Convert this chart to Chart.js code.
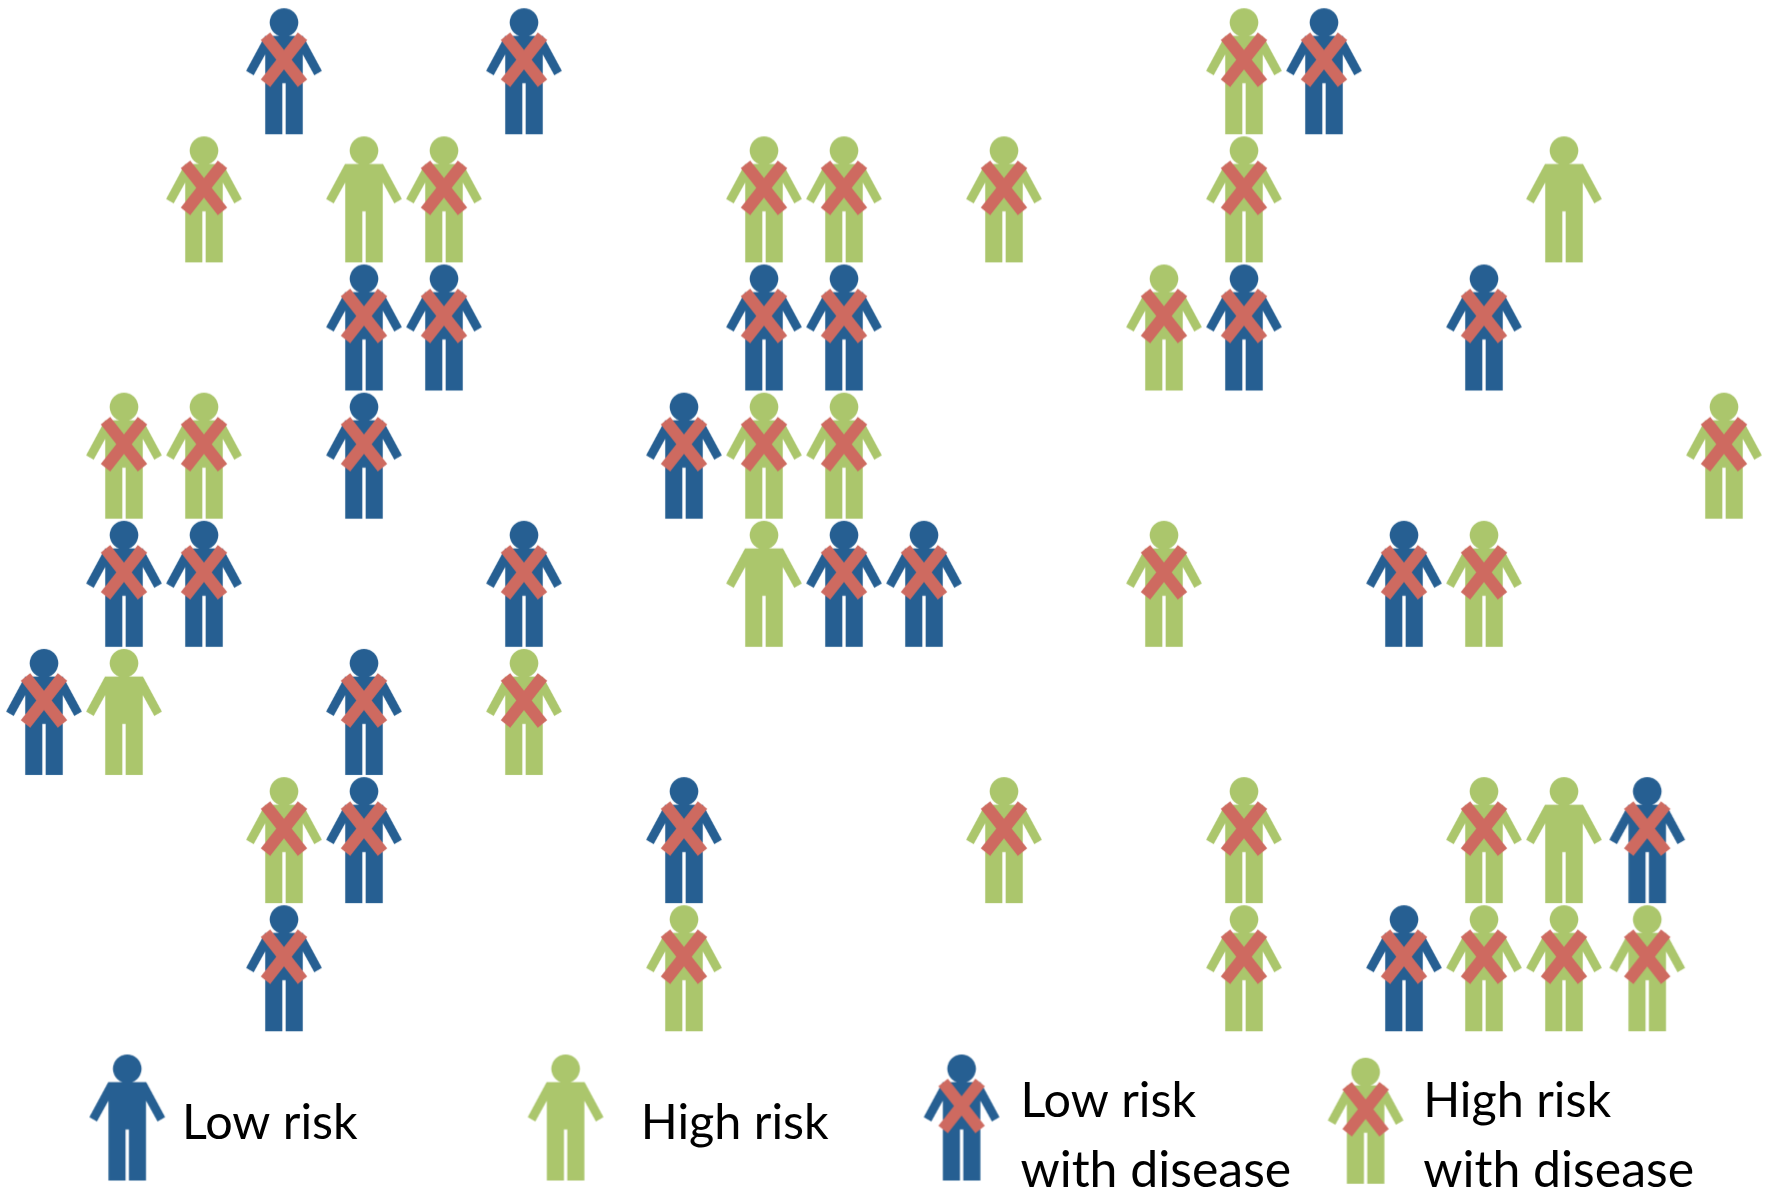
<!DOCTYPE html>
<html><head><meta charset="utf-8">
<style>html,body{margin:0;padding:0;background:#fff;overflow:hidden}#w{width:1774px;height:1192px;position:relative}canvas{display:block;filter:blur(0.45px)}</style>
<script src="https://cdn.jsdelivr.net/npm/chart.js@4/dist/chart.umd.min.js"></script>
</head><body><div id="w"><canvas id="c" width="1774" height="1192"></canvas></div>
<script>
// Grid positions: column index, row index
const lowRiskCol = [];
const lowRiskRow = [];
const highRiskCol = [4, 19, 9, 1, 19];
const highRiskRow = [1, 1, 4, 5, 6];
const lowDiseaseCol = [3, 6, 16, 4, 5, 9, 10, 15, 18, 4, 8, 1, 2, 6, 10, 11, 17, 0, 4, 4, 8, 20.04, 3, 17];
const lowDiseaseRow = [0, 0, 0, 2, 2, 2, 2, 2, 2, 3, 3, 4, 4, 4, 4, 4, 4, 5, 5, 6, 6, 6, 7, 7];
const highDiseaseCol = [15, 2, 5, 9, 10, 12, 15, 14, 1, 2, 9, 10, 21, 14, 18, 6, 3, 12, 15, 18, 8, 15, 18, 19, 20.04];
const highDiseaseRow = [0, 1, 1, 1, 1, 1, 1, 2, 3, 3, 3, 3, 3, 4, 4, 5, 6, 6, 6, 6, 7, 7, 7, 7, 7];

// Legend keys and texts, in the same grid units
const keyNames = ["Low risk", "High risk", "Low risk with disease", "High risk with disease"];
const keyCol = [1.04, 6.52, 11.47, 16.52];
const keyRow = [8.165, 8.165, 8.165, 8.19];
const keyLabels = ["Low risk", "High risk", "Low risk", "with disease", "High risk", "with disease"];
const keyLabelCol = [1.725, 7.46, 12.205, 12.205, 17.24, 17.24];
const keyLabelRow = [8.336, 8.336, 8.165, 8.71, 8.165, 8.71];
const keyLabelPx = [48.5, 48.5, 48.5, 50, 48.5, 50];

const BLUE = "#265F92", GREEN = "#ABC66C", RED = "#CE6A60";

function person(color, crossed) {
  const s = 3, c = document.createElement("canvas");
  c.width = 84 * s; c.height = 130 * s;
  const g = c.getContext("2d");
  g.scale(s, s);
  g.translate(42, 2);
  g.fillStyle = color;
  g.beginPath(); g.arc(0, 14.3, 14.3, 0, Math.PI * 2); g.fill();
  g.beginPath();
  g.moveTo(-19, 27.7); g.lineTo(19, 27.7);
  g.lineTo(37.9, 62.7); g.lineTo(30.3, 67); g.lineTo(18.7, 46);
  g.lineTo(18.7, 126); g.lineTo(1.7, 126); g.lineTo(1.7, 75);
  g.lineTo(-1.7, 75); g.lineTo(-1.7, 126); g.lineTo(-18.7, 126);
  g.lineTo(-18.7, 46); g.lineTo(-30.3, 67); g.lineTo(-37.9, 62.7);
  g.closePath(); g.fill();
  if (crossed) {
    g.strokeStyle = RED; g.lineWidth = 12; g.lineCap = "butt";
    g.beginPath();
    g.moveTo(-18.5, 28); g.lineTo(18.5, 75);
    g.moveTo(18.5, 28); g.lineTo(-18.5, 75);
    g.stroke();
  }
  return c;
}
const pts = (xs, ys) => xs.map((x, i) => ({ x, y: ys[i] }));
const imgs = {
  low: person(BLUE, false), high: person(GREEN, false),
  lowX: person(BLUE, true), highX: person(GREEN, true)
};
function sized(src) {
  const c = document.createElement("canvas");
  c.width = 84; c.height = 130;
  const g = c.getContext("2d");
  g.imageSmoothingQuality = "high";
  g.drawImage(src, 0, 0, 84, 130);
  return c;
}
Object.keys(imgs).forEach(k => imgs[k] = sized(imgs[k]));

const keyTextPlugin = {
  id: "keyText",
  afterDatasetsDraw(chart) {
    const { ctx, scales: { x, y } } = chart;
    ctx.save();
    ctx.fillStyle = "#000";
    ctx.textBaseline = "alphabetic";
    keyLabels.forEach((t, i) => {
      ctx.font = keyLabelPx[i] + "px Lato";
      ctx.fillText(t, x.getPixelForValue(keyLabelCol[i]), y.getPixelForValue(keyLabelRow[i]));
    });
    ctx.restore();
  }
};
const set = (label, data, style) => ({ label, data, pointStyle: style, pointRadius: 40, pointHoverRadius: 40, showLine: false, clip: false });

new Chart(document.getElementById("c"), {
  type: "scatter",
  data: {
    datasets: [
      set("Low risk", pts(lowRiskCol, lowRiskRow), imgs.low),
      set("High risk", pts(highRiskCol, highRiskRow), imgs.high),
      set("Low risk with disease", pts(lowDiseaseCol, lowDiseaseRow), imgs.lowX),
      set("High risk with disease", pts(highDiseaseCol, highDiseaseRow), imgs.highX),
      set("Legend low", [{ x: keyCol[0], y: keyRow[0] }], imgs.low),
      set("Legend high", [{ x: keyCol[1], y: keyRow[1] }], imgs.high),
      set("Legend low disease", [{ x: keyCol[2], y: keyRow[2] }], imgs.lowX),
      set("Legend high disease", [{ x: keyCol[3], y: keyRow[3] }], imgs.highX)
    ]
  },
  options: {
    responsive: false, animation: false,
    layout: { padding: 0, autoPadding: false },
    plugins: { legend: { display: false }, title: { display: false }, tooltip: { enabled: false } },
    scales: {
      x: { type: "linear", display: false, min: -0.55, max: 21.625 },
      y: { type: "linear", display: false, reverse: true, min: -0.5556, max: 8.7464 }
    }
  },
  plugins: [keyTextPlugin]
});
</script></body></html>
